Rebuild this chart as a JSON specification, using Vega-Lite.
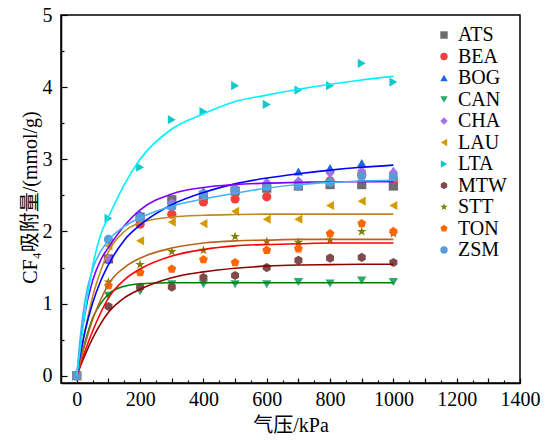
{
  "$schema": "https://vega.github.io/schema/vega-lite/v6.json",
  "width": 459,
  "height": 368,
  "autosize": {"type": "none"},
  "padding": {"left": 61, "top": 15, "right": 29, "bottom": 57},
  "background": "white",
  "config": {
    "view": {"stroke": "black", "strokeWidth": 1.5},
    "font": "Liberation Serif",
    "axis": {
      "grid": false,
      "domainColor": "black",
      "domainWidth": 1.5,
      "tickColor": "black",
      "tickWidth": 1.2,
      "labelColor": "black",
      "labelFont": "Liberation Serif",
      "labelFontSize": 20,
      "labelFlush": false,
      "labelOverlap": false,
      "titleColor": "black",
      "titleFont": "Liberation Serif, Noto Sans CJK SC",
      "titleFontSize": 20,
      "titleFontWeight": "normal"
    },
    "legend": {
      "padding": 0,
      "labelFont": "Liberation Serif",
      "labelFontWeight": "normal",
      "labelFontSize": 20,
      "labelColor": "black",
      "symbolSize": 55,
      "symbolStrokeWidth": 0,
      "rowPadding": 1.5
    }
  },
  "datasets": {
    "pts": [
      {"s": "ATS", "p": 0, "q": 0}, {"s": "ATS", "p": 100, "q": 1.62}, {"s": "ATS", "p": 200, "q": 2.2}, {"s": "ATS", "p": 300, "q": 2.44}, {"s": "ATS", "p": 400, "q": 2.5}, {"s": "ATS", "p": 500, "q": 2.56}, {"s": "ATS", "p": 600, "q": 2.6}, {"s": "ATS", "p": 700, "q": 2.63}, {"s": "ATS", "p": 800, "q": 2.65}, {"s": "ATS", "p": 900, "q": 2.65}, {"s": "ATS", "p": 1000, "q": 2.63},
      {"s": "BEA", "p": 0, "q": 0}, {"s": "BEA", "p": 100, "q": 1.61}, {"s": "BEA", "p": 200, "q": 2.1}, {"s": "BEA", "p": 300, "q": 2.24}, {"s": "BEA", "p": 400, "q": 2.41}, {"s": "BEA", "p": 500, "q": 2.45}, {"s": "BEA", "p": 600, "q": 2.48}, {"s": "BEA", "p": 700, "q": 2.63}, {"s": "BEA", "p": 800, "q": 2.7}, {"s": "BEA", "p": 900, "q": 2.79}, {"s": "BEA", "p": 1000, "q": 2.72},
      {"s": "BOG", "p": 0, "q": 0}, {"s": "BOG", "p": 100, "q": 1.62}, {"s": "BOG", "p": 200, "q": 2.24}, {"s": "BOG", "p": 300, "q": 2.36}, {"s": "BOG", "p": 400, "q": 2.56}, {"s": "BOG", "p": 500, "q": 2.61}, {"s": "BOG", "p": 600, "q": 2.66}, {"s": "BOG", "p": 700, "q": 2.83}, {"s": "BOG", "p": 800, "q": 2.88}, {"s": "BOG", "p": 900, "q": 2.95}, {"s": "BOG", "p": 1000, "q": 2.84},
      {"s": "CAN", "p": 0, "q": 0}, {"s": "CAN", "p": 100, "q": 1.11}, {"s": "CAN", "p": 200, "q": 1.17}, {"s": "CAN", "p": 300, "q": 1.27}, {"s": "CAN", "p": 400, "q": 1.27}, {"s": "CAN", "p": 500, "q": 1.27}, {"s": "CAN", "p": 600, "q": 1.27}, {"s": "CAN", "p": 700, "q": 1.3}, {"s": "CAN", "p": 800, "q": 1.28}, {"s": "CAN", "p": 900, "q": 1.32}, {"s": "CAN", "p": 1000, "q": 1.3},
      {"s": "CHA", "p": 0, "q": 0}, {"s": "CHA", "p": 100, "q": 1.62}, {"s": "CHA", "p": 200, "q": 2.2}, {"s": "CHA", "p": 300, "q": 2.4}, {"s": "CHA", "p": 400, "q": 2.51}, {"s": "CHA", "p": 500, "q": 2.61}, {"s": "CHA", "p": 600, "q": 2.68}, {"s": "CHA", "p": 700, "q": 2.7}, {"s": "CHA", "p": 800, "q": 2.81}, {"s": "CHA", "p": 900, "q": 2.84}, {"s": "CHA", "p": 1000, "q": 2.82},
      {"s": "LAU", "p": 0, "q": 0}, {"s": "LAU", "p": 100, "q": 1.8}, {"s": "LAU", "p": 200, "q": 1.87}, {"s": "LAU", "p": 300, "q": 2.13}, {"s": "LAU", "p": 400, "q": 2.11}, {"s": "LAU", "p": 500, "q": 2.28}, {"s": "LAU", "p": 600, "q": 2.17}, {"s": "LAU", "p": 700, "q": 2.17}, {"s": "LAU", "p": 800, "q": 2.36}, {"s": "LAU", "p": 900, "q": 2.42}, {"s": "LAU", "p": 1000, "q": 2.36},
      {"s": "LTA", "p": 0, "q": 0}, {"s": "LTA", "p": 100, "q": 2.18}, {"s": "LTA", "p": 200, "q": 2.89}, {"s": "LTA", "p": 300, "q": 3.55}, {"s": "LTA", "p": 400, "q": 3.66}, {"s": "LTA", "p": 500, "q": 4.02}, {"s": "LTA", "p": 600, "q": 3.76}, {"s": "LTA", "p": 700, "q": 3.96}, {"s": "LTA", "p": 800, "q": 4.02}, {"s": "LTA", "p": 900, "q": 4.33}, {"s": "LTA", "p": 1000, "q": 4.07},
      {"s": "MTW", "p": 0, "q": 0}, {"s": "MTW", "p": 100, "q": 0.96}, {"s": "MTW", "p": 200, "q": 1.23}, {"s": "MTW", "p": 300, "q": 1.23}, {"s": "MTW", "p": 400, "q": 1.36}, {"s": "MTW", "p": 500, "q": 1.39}, {"s": "MTW", "p": 600, "q": 1.5}, {"s": "MTW", "p": 700, "q": 1.6}, {"s": "MTW", "p": 800, "q": 1.63}, {"s": "MTW", "p": 900, "q": 1.64}, {"s": "MTW", "p": 1000, "q": 1.57},
      {"s": "STT", "p": 0, "q": 0}, {"s": "STT", "p": 100, "q": 1.3}, {"s": "STT", "p": 200, "q": 1.54}, {"s": "STT", "p": 300, "q": 1.72}, {"s": "STT", "p": 400, "q": 1.74}, {"s": "STT", "p": 500, "q": 1.93}, {"s": "STT", "p": 600, "q": 1.86}, {"s": "STT", "p": 700, "q": 1.85}, {"s": "STT", "p": 800, "q": 1.88}, {"s": "STT", "p": 900, "q": 2.0}, {"s": "STT", "p": 1000, "q": 1.97},
      {"s": "TON", "p": 0, "q": 0}, {"s": "TON", "p": 100, "q": 1.25}, {"s": "TON", "p": 200, "q": 1.43}, {"s": "TON", "p": 300, "q": 1.48}, {"s": "TON", "p": 400, "q": 1.61}, {"s": "TON", "p": 500, "q": 1.57}, {"s": "TON", "p": 600, "q": 1.74}, {"s": "TON", "p": 700, "q": 1.76}, {"s": "TON", "p": 800, "q": 1.97}, {"s": "TON", "p": 900, "q": 2.11}, {"s": "TON", "p": 1000, "q": 2.0},
      {"s": "ZSM", "p": 0, "q": 0}, {"s": "ZSM", "p": 100, "q": 1.89}, {"s": "ZSM", "p": 200, "q": 2.19}, {"s": "ZSM", "p": 300, "q": 2.35}, {"s": "ZSM", "p": 400, "q": 2.52}, {"s": "ZSM", "p": 500, "q": 2.57}, {"s": "ZSM", "p": 600, "q": 2.62}, {"s": "ZSM", "p": 700, "q": 2.63}, {"s": "ZSM", "p": 800, "q": 2.68}, {"s": "ZSM", "p": 900, "q": 2.77}, {"s": "ZSM", "p": 1000, "q": 2.75}
    ],
    "crv": [
      {"c": "CAN", "p": 0, "q": 0}, {"c": "CAN", "p": 10, "q": 0.2}, {"c": "CAN", "p": 25, "q": 0.45}, {"c": "CAN", "p": 50, "q": 0.8}, {"c": "CAN", "p": 75, "q": 1.0}, {"c": "CAN", "p": 100, "q": 1.13}, {"c": "CAN", "p": 150, "q": 1.24}, {"c": "CAN", "p": 200, "q": 1.275}, {"c": "CAN", "p": 300, "q": 1.29}, {"c": "CAN", "p": 400, "q": 1.29}, {"c": "CAN", "p": 500, "q": 1.29}, {"c": "CAN", "p": 600, "q": 1.29}, {"c": "CAN", "p": 700, "q": 1.29}, {"c": "CAN", "p": 800, "q": 1.29}, {"c": "CAN", "p": 900, "q": 1.29}, {"c": "CAN", "p": 1000, "q": 1.29},
      {"c": "MTW", "p": 0, "q": 0}, {"c": "MTW", "p": 10, "q": 0.12}, {"c": "MTW", "p": 25, "q": 0.28}, {"c": "MTW", "p": 50, "q": 0.52}, {"c": "MTW", "p": 75, "q": 0.72}, {"c": "MTW", "p": 100, "q": 0.88}, {"c": "MTW", "p": 150, "q": 1.08}, {"c": "MTW", "p": 200, "q": 1.2}, {"c": "MTW", "p": 300, "q": 1.36}, {"c": "MTW", "p": 400, "q": 1.44}, {"c": "MTW", "p": 500, "q": 1.49}, {"c": "MTW", "p": 600, "q": 1.52}, {"c": "MTW", "p": 700, "q": 1.535}, {"c": "MTW", "p": 800, "q": 1.54}, {"c": "MTW", "p": 900, "q": 1.545}, {"c": "MTW", "p": 1000, "q": 1.545},
      {"c": "TON", "p": 0, "q": 0}, {"c": "TON", "p": 10, "q": 0.14}, {"c": "TON", "p": 25, "q": 0.33}, {"c": "TON", "p": 50, "q": 0.62}, {"c": "TON", "p": 75, "q": 0.87}, {"c": "TON", "p": 100, "q": 1.08}, {"c": "TON", "p": 150, "q": 1.33}, {"c": "TON", "p": 200, "q": 1.48}, {"c": "TON", "p": 300, "q": 1.66}, {"c": "TON", "p": 400, "q": 1.75}, {"c": "TON", "p": 500, "q": 1.8}, {"c": "TON", "p": 600, "q": 1.82}, {"c": "TON", "p": 700, "q": 1.83}, {"c": "TON", "p": 800, "q": 1.84}, {"c": "TON", "p": 900, "q": 1.84}, {"c": "TON", "p": 1000, "q": 1.84},
      {"c": "STT", "p": 0, "q": 0}, {"c": "STT", "p": 10, "q": 0.18}, {"c": "STT", "p": 25, "q": 0.42}, {"c": "STT", "p": 50, "q": 0.78}, {"c": "STT", "p": 75, "q": 1.05}, {"c": "STT", "p": 100, "q": 1.27}, {"c": "STT", "p": 150, "q": 1.5}, {"c": "STT", "p": 200, "q": 1.63}, {"c": "STT", "p": 300, "q": 1.77}, {"c": "STT", "p": 400, "q": 1.84}, {"c": "STT", "p": 500, "q": 1.87}, {"c": "STT", "p": 600, "q": 1.88}, {"c": "STT", "p": 700, "q": 1.89}, {"c": "STT", "p": 800, "q": 1.89}, {"c": "STT", "p": 900, "q": 1.89}, {"c": "STT", "p": 1000, "q": 1.89},
      {"c": "LAU", "p": 0, "q": 0}, {"c": "LAU", "p": 10, "q": 0.25}, {"c": "LAU", "p": 25, "q": 0.6}, {"c": "LAU", "p": 50, "q": 1.1}, {"c": "LAU", "p": 75, "q": 1.45}, {"c": "LAU", "p": 100, "q": 1.72}, {"c": "LAU", "p": 150, "q": 2.0}, {"c": "LAU", "p": 200, "q": 2.12}, {"c": "LAU", "p": 300, "q": 2.2}, {"c": "LAU", "p": 400, "q": 2.225}, {"c": "LAU", "p": 500, "q": 2.235}, {"c": "LAU", "p": 600, "q": 2.24}, {"c": "LAU", "p": 700, "q": 2.24}, {"c": "LAU", "p": 800, "q": 2.24}, {"c": "LAU", "p": 900, "q": 2.24}, {"c": "LAU", "p": 1000, "q": 2.24},
      {"c": "BOG", "p": 0, "q": 0}, {"c": "BOG", "p": 10, "q": 0.27}, {"c": "BOG", "p": 25, "q": 0.6}, {"c": "BOG", "p": 50, "q": 1.01}, {"c": "BOG", "p": 75, "q": 1.31}, {"c": "BOG", "p": 100, "q": 1.54}, {"c": "BOG", "p": 150, "q": 1.88}, {"c": "BOG", "p": 200, "q": 2.09}, {"c": "BOG", "p": 300, "q": 2.37}, {"c": "BOG", "p": 400, "q": 2.54}, {"c": "BOG", "p": 500, "q": 2.66}, {"c": "BOG", "p": 600, "q": 2.74}, {"c": "BOG", "p": 700, "q": 2.8}, {"c": "BOG", "p": 800, "q": 2.85}, {"c": "BOG", "p": 900, "q": 2.89}, {"c": "BOG", "p": 1000, "q": 2.92},
      {"c": "CHA", "p": 0, "q": 0}, {"c": "CHA", "p": 10, "q": 0.4}, {"c": "CHA", "p": 25, "q": 0.85}, {"c": "CHA", "p": 50, "q": 1.32}, {"c": "CHA", "p": 75, "q": 1.6}, {"c": "CHA", "p": 100, "q": 1.78}, {"c": "CHA", "p": 150, "q": 2.08}, {"c": "CHA", "p": 200, "q": 2.3}, {"c": "CHA", "p": 300, "q": 2.52}, {"c": "CHA", "p": 400, "q": 2.61}, {"c": "CHA", "p": 500, "q": 2.65}, {"c": "CHA", "p": 600, "q": 2.67}, {"c": "CHA", "p": 700, "q": 2.68}, {"c": "CHA", "p": 800, "q": 2.69}, {"c": "CHA", "p": 900, "q": 2.69}, {"c": "CHA", "p": 1000, "q": 2.69},
      {"c": "ZSM", "p": 0, "q": 0}, {"c": "ZSM", "p": 10, "q": 0.5}, {"c": "ZSM", "p": 25, "q": 1.02}, {"c": "ZSM", "p": 50, "q": 1.48}, {"c": "ZSM", "p": 75, "q": 1.72}, {"c": "ZSM", "p": 100, "q": 1.88}, {"c": "ZSM", "p": 150, "q": 2.07}, {"c": "ZSM", "p": 200, "q": 2.19}, {"c": "ZSM", "p": 300, "q": 2.35}, {"c": "ZSM", "p": 400, "q": 2.45}, {"c": "ZSM", "p": 500, "q": 2.53}, {"c": "ZSM", "p": 600, "q": 2.6}, {"c": "ZSM", "p": 700, "q": 2.65}, {"c": "ZSM", "p": 800, "q": 2.68}, {"c": "ZSM", "p": 900, "q": 2.7}, {"c": "ZSM", "p": 1000, "q": 2.71},
      {"c": "LTA", "p": 0, "q": 0}, {"c": "LTA", "p": 10, "q": 0.35}, {"c": "LTA", "p": 25, "q": 0.85}, {"c": "LTA", "p": 50, "q": 1.52}, {"c": "LTA", "p": 75, "q": 1.95}, {"c": "LTA", "p": 100, "q": 2.2}, {"c": "LTA", "p": 150, "q": 2.65}, {"c": "LTA", "p": 200, "q": 3.0}, {"c": "LTA", "p": 300, "q": 3.42}, {"c": "LTA", "p": 400, "q": 3.63}, {"c": "LTA", "p": 500, "q": 3.8}, {"c": "LTA", "p": 600, "q": 3.89}, {"c": "LTA", "p": 700, "q": 3.97}, {"c": "LTA", "p": 800, "q": 4.04}, {"c": "LTA", "p": 900, "q": 4.1}, {"c": "LTA", "p": 1000, "q": 4.15}
    ]
  },
  "layer": [
    {
      "data": {"name": "pts"},
      "mark": {"type": "point", "opacity": 0},
      "encoding": {
        "x": {"field": "p", "type": "quantitative", "scale": {"domain": [-50, 1400], "nice": false, "zero": false},
          "axis": {"orient": "bottom", "values": [50, 150, 250, 350, 450, 550, 650, 750, 850, 950, 1050, 1150, 1250, 1350], "tickSize": -3, "labels": false, "domain": false, "title": null}},
        "y": {"field": "q", "type": "quantitative", "scale": {"domain": [-0.1, 5], "nice": false, "zero": false},
          "axis": {"orient": "left", "values": [0.5, 1.5, 2.5, 3.5, 4.5], "tickSize": -3, "labels": false, "domain": false, "title": null}}
      }
    },
    {
      "data": {"name": "pts"},
      "mark": {"type": "point", "filled": true, "opacity": 1, "size": 85, "strokeWidth": 0},
      "encoding": {
        "x": {"field": "p", "type": "quantitative",
          "axis": {"orient": "bottom", "values": [0, 100, 200, 300, 400, 500, 600, 700, 800, 900, 1000, 1100, 1200, 1300, 1400], "format": "d", "tickSize": -5, "labelPadding": 11, "labelExpr": "datum.value % 200 === 0 ? datum.label : ''", "title": "气压/kPa", "titleX": 229.5, "titleY": 42, "titleBaseline": "middle"}},
        "y": {"field": "q", "type": "quantitative",
          "axis": {"orient": "left", "values": [0, 1, 2, 3, 4, 5], "tickSize": -6, "labelPadding": 15, "title": "CF₄吸附量/(mmol/g)", "titleX": -31, "titleY": 182, "titleAngle": 270, "titleBaseline": "middle", "titleAlign": "center"}},
        "color": {"field": "s", "type": "nominal",
          "scale": {"domain": ["ATS", "BEA", "BOG", "CAN", "CHA", "LAU", "LTA", "MTW", "STT", "TON", "ZSM"],
            "range": ["#6e6e6e", "#f0403c", "#1a66e6", "#2ca86a", "#a673e6", "#d49b00", "#14c8c8", "#7d4b4b", "#808000", "#ff6600", "#5b9bd5"]},
          "legend": {"title": null, "orient": "none", "legendX": 373, "legendY": 10, "labelFont": "Liberation Serif", "labelFontWeight": "normal", "labelFontSize": 20, "labelOffset": 4,
            "encode": {"labels": {"update": {"font": {"value": "Liberation Serif"}, "fontWeight": {"value": "normal"}}}}}},
        "shape": {"field": "s", "type": "nominal",
          "scale": {"domain": ["ATS", "BEA", "BOG", "CAN", "CHA", "LAU", "LTA", "MTW", "STT", "TON", "ZSM"],
            "range": ["square", "circle", "triangle-up", "triangle-down", "diamond", "triangle-left", "triangle-right", "M0,-1L0.866,-0.5L0.866,0.5L0,1L-0.866,0.5L-0.866,-0.5Z", "M0,-1.1L0.25,-0.34L1.05,-0.34L0.4,0.13L0.65,0.89L0,0.42L-0.65,0.89L-0.4,0.13L-1.05,-0.34L-0.25,-0.34Z", "M0,-1L0.951,-0.309L0.588,0.809L-0.588,0.809L-0.951,-0.309Z", "circle"]},
          "legend": {"title": null, "orient": "none", "legendX": 373, "legendY": 10, "labelFont": "Liberation Serif", "labelFontWeight": "normal", "labelFontSize": 20, "labelOffset": 4,
            "encode": {"labels": {"update": {"font": {"value": "Liberation Serif"}, "fontWeight": {"value": "normal"}}}}}}
      }
    },
    {
      "data": {"name": "crv"},
      "mark": {"type": "line", "strokeWidth": 1.6, "interpolate": "monotone"},
      "encoding": {
        "x": {"field": "p", "type": "quantitative", "axis": null},
        "y": {"field": "q", "type": "quantitative", "axis": null},
        "detail": {"field": "c", "type": "nominal"},
        "stroke": {"field": "c", "type": "nominal", "legend": null,
          "scale": {"domain": ["CAN", "MTW", "TON", "STT", "LAU", "BOG", "CHA", "ZSM", "LTA"],
            "range": ["#008000", "#8b0000", "#ff0000", "#b8651b", "#c08a20", "#0000ff", "#8000ff", "#40b0ff", "#00f0ff"]}}
      }
    }
  ],
  "resolve": {"axis": {"x": "independent", "y": "independent"}}
}
